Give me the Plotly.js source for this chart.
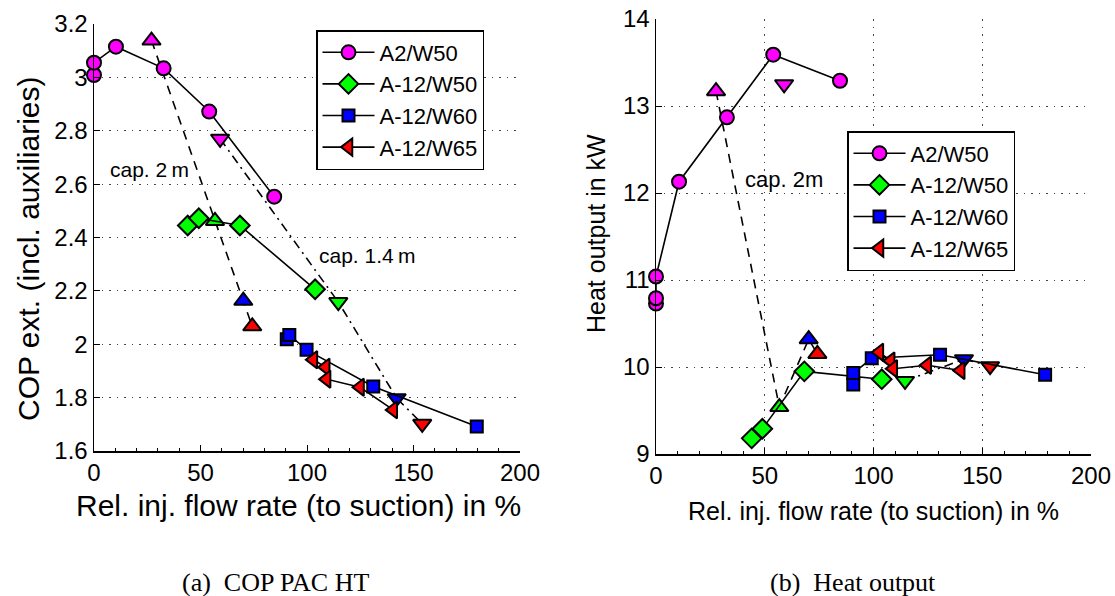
<!DOCTYPE html>
<html>
<head>
<meta charset="utf-8">
<script src="https://cdn.plot.ly/plotly-3.0.1.min.js"></script>
<style>html,body{margin:0;padding:0;background:#fff;}#chart{width:1115px;height:596px;}</style>
</head>
<body>
<div id="chart"></div>
<script>
// ---- Data: (a) COP PAC HT ----
const seriesNames = ['A2/W50', 'A-12/W50', 'A-12/W60', 'A-12/W65'];
const copA2W50x = [0, 0, 10.3, 32.7, 54.1, 84.6];
const copA2W50y = [3.009, 3.055, 3.115, 3.034, 2.872, 2.553];
const copA12W50x = [44, 49.2, 68.5, 103.8];
const copA12W50y = [2.445, 2.472, 2.445, 2.206];
const copA12W60x = [90.5, 91.7, 99.8, 131.1, 179.7];
const copA12W60y = [2.019, 2.035, 1.979, 1.842, 1.692];
const copA12W65x = [103, 108.8, 109.2, 124.9, 140.5];
const copA12W65y = [1.942, 1.914, 1.869, 1.839, 1.754];
const copCap2x = [27, 56.8, 70.1, 74.3];
const copCap2y = [3.138, 2.462, 2.163, 2.067];
const copCap14x = [59.2, 114.7, 142.1, 154.1];
const copCap14y = [2.770, 2.158, 1.798, 1.702];

// ---- Data: (b) Heat output ----
const hoA2W50x = [0, 0, 0, 10.6, 32.6, 53.9, 84.6];
const hoA2W50y = [10.73, 10.79, 11.04, 12.13, 12.87, 13.59, 13.29];
const hoA12W50x = [44, 48.9, 68.2, 103.8];
const hoA12W50y = [9.18, 9.29, 9.95, 9.86];
const hoA12W60x = [90.7, 90.7, 99.2, 130.6, 178.9];
const hoA12W60y = [9.80, 9.93, 10.10, 10.14, 9.91];
const hoA12W65x = [102.7, 107.9, 109.1, 124.7, 140.1];
const hoA12W65y = [10.17, 10.07, 9.98, 10.02, 9.96];
const hoCap2x = [27.6, 56.7, 70.2, 74.2];
const hoCap2y = [13.17, 9.54, 10.32, 10.15];
const hoCap14x = [58.9, 114.5, 141.6, 153.6];
const hoCap14y = [13.25, 9.84, 10.09, 10.01];

const triColors = ['#ff00ff', '#00ff00', '#0000ff', '#ff0000'];
const serColors = ['#ff00ff', '#00ff00', '#0000ff', '#ff0000'];
const serSymbols = ['circle', 'diamond', 'square', 'triangle-left'];
const serSizes = [14, 15, 12, 15];

const sans = 'Liberation Sans, Arial, Helvetica, sans-serif';
const serif = 'Liberation Serif, Times New Roman, serif';

function series(x, y, i, xa, ya, leg) {
  return {
    type: 'scatter', mode: 'lines+markers', x: x, y: y, name: seriesNames[i],
    xaxis: xa, yaxis: ya, legend: leg, cliponaxis: false, showlegend: true,
    line: {color: '#000', width: 1.6},
    marker: {symbol: serSymbols[i], size: serSizes[i], color: serColors[i], line: {color: '#000', width: 2}}
  };
}
function tri(x, y, sym, dash, xa, ya, colors, showLine) {
  return {
    type: 'scatter', mode: showLine ? 'lines+markers' : 'markers', x: x, y: y,
    xaxis: xa, yaxis: ya, showlegend: false, cliponaxis: false,
    line: {color: '#000', width: 1.6, dash: dash},
    marker: {symbol: sym, size: 16, color: colors, line: {color: '#000', width: 2}}
  };
}

const data = [
  tri(copCap2x, copCap2y, 'triangle-up', '9px,7px', 'x', 'y', triColors, true),
  tri(copCap14x, copCap14y, 'triangle-down', '9px,5px,2px,5px', 'x', 'y', triColors, true),
  series(copA2W50x, copA2W50y, 0, 'x', 'y', 'legend'),
  series(copA12W50x, copA12W50y, 1, 'x', 'y', 'legend'),
  series(copA12W60x, copA12W60y, 2, 'x', 'y', 'legend'),
  series(copA12W65x, copA12W65y, 3, 'x', 'y', 'legend'),
  tri(hoCap2x, hoCap2y, 'triangle-up', '9px,7px', 'x2', 'y2', triColors, true),
  tri(hoCap14x.slice(0, 1), hoCap14y.slice(0, 1), 'triangle-down', 'solid', 'x2', 'y2', triColors.slice(0, 1), false),
  tri(hoCap14x.slice(1), hoCap14y.slice(1), 'triangle-down', '9px,5px,2px,5px', 'x2', 'y2', triColors.slice(1), true),
  series(hoA2W50x, hoA2W50y, 0, 'x2', 'y2', 'legend2'),
  series(hoA12W50x, hoA12W50y, 1, 'x2', 'y2', 'legend2'),
  series(hoA12W60x, hoA12W60y, 2, 'x2', 'y2', 'legend2'),
  series(hoA12W65x, hoA12W65y, 3, 'x2', 'y2', 'legend2')
];

const gridDash = '1.5px,6px';
function axis(extra) {
  return Object.assign({
    showline: true, linecolor: '#000', linewidth: 1.5, mirror: false,
    ticks: 'inside', ticklen: 6, tickwidth: 1, tickcolor: '#000',
    zeroline: false, gridcolor: '#444', gridwidth: 1, griddash: gridDash,
    tickfont: {family: sans, size: 24, color: '#000'}, fixedrange: true
  }, extra);
}
const minorX = {ticks: 'inside', dtick: 10, ticklen: 3, tickcolor: '#000', showgrid: false};

const W = 1115, H = 596;
const legendBase = {xanchor: 'left', yanchor: 'top', bgcolor: '#fff', bordercolor: '#000', borderwidth: 1.5,
  font: {family: sans, size: 22, color: '#000'}, tracegroupgap: 0, itemwidth: 52};
const layout = {
  width: W, height: H, margin: {l: 0, r: 0, t: 0, b: 0},
  paper_bgcolor: '#fff', plot_bgcolor: 'rgba(0,0,0,0)',
  font: {family: sans, color: '#000'},
  xaxis: axis({domain: [94 / W, 520 / W], range: [0, 200], dtick: 50, anchor: 'y', showgrid: false, minor: minorX}),
  yaxis: axis({domain: [1 - 451 / H, 1 - 24 / H], range: [1.6, 3.2], dtick: 0.2, anchor: 'x', showgrid: true}),
  xaxis2: axis({domain: [656 / W, 1091 / W], range: [0, 200], dtick: 50, anchor: 'y2', showgrid: true, minor: minorX}),
  yaxis2: axis({domain: [1 - 454 / H, 1 - 19 / H], range: [9, 14], dtick: 1, anchor: 'x2', showgrid: true}),
  legend: Object.assign({x: 316 / W, y: 1 - 30 / H}, legendBase),
  legend2: Object.assign({x: 847 / W, y: 1 - 131 / H}, legendBase),
  showlegend: true,
  annotations: [
    {xref: 'paper', yref: 'paper', x: 28 / W, y: 1 - 249 / H, text: 'COP ext. (incl. auxiliaries)', textangle: -90,
      showarrow: false, xanchor: 'center', yanchor: 'middle', font: {family: sans, size: 30}},
    {xref: 'paper', yref: 'paper', x: 298 / W, y: 1 - 505 / H, text: 'Rel. inj. flow rate (to suction) in %',
      showarrow: false, xanchor: 'center', yanchor: 'middle', font: {family: sans, size: 30}},
    {xref: 'paper', yref: 'paper', x: 596 / W, y: 1 - 234 / H, text: 'Heat output in kW', textangle: -90,
      showarrow: false, xanchor: 'center', yanchor: 'middle', font: {family: sans, size: 25}},
    {xref: 'paper', yref: 'paper', x: 873 / W, y: 1 - 511 / H, text: 'Rel. inj. flow rate (to suction) in %',
      showarrow: false, xanchor: 'center', yanchor: 'middle', font: {family: sans, size: 25}},
    {xref: 'x', yref: 'y', x: 6.4, y: 2.653, text: 'cap. 2\u2009m', showarrow: false, xanchor: 'left', yanchor: 'middle',
      font: {family: sans, size: 21}},
    {xref: 'x', yref: 'y', x: 104.5, y: 2.331, text: 'cap. 1.4\u2009m', showarrow: false, xanchor: 'left', yanchor: 'middle',
      font: {family: sans, size: 21}},
    {xref: 'x2', yref: 'y2', x: 40, y: 12.15, text: 'cap. 2m', showarrow: false, xanchor: 'left', yanchor: 'middle',
      font: {family: sans, size: 22}},
    {xref: 'paper', yref: 'paper', x: 275 / W, y: 1 - 582 / H, text: '(a)  COP PAC HT', showarrow: false,
      xanchor: 'center', yanchor: 'middle', font: {family: serif, size: 26}},
    {xref: 'paper', yref: 'paper', x: 853 / W, y: 1 - 582 / H, text: '(b)  Heat output', showarrow: false,
      xanchor: 'center', yanchor: 'middle', font: {family: serif, size: 26}}
  ]
};

Plotly.newPlot('chart', data, layout, {staticPlot: true, displayModeBar: false});
</script>
</body>
</html>
